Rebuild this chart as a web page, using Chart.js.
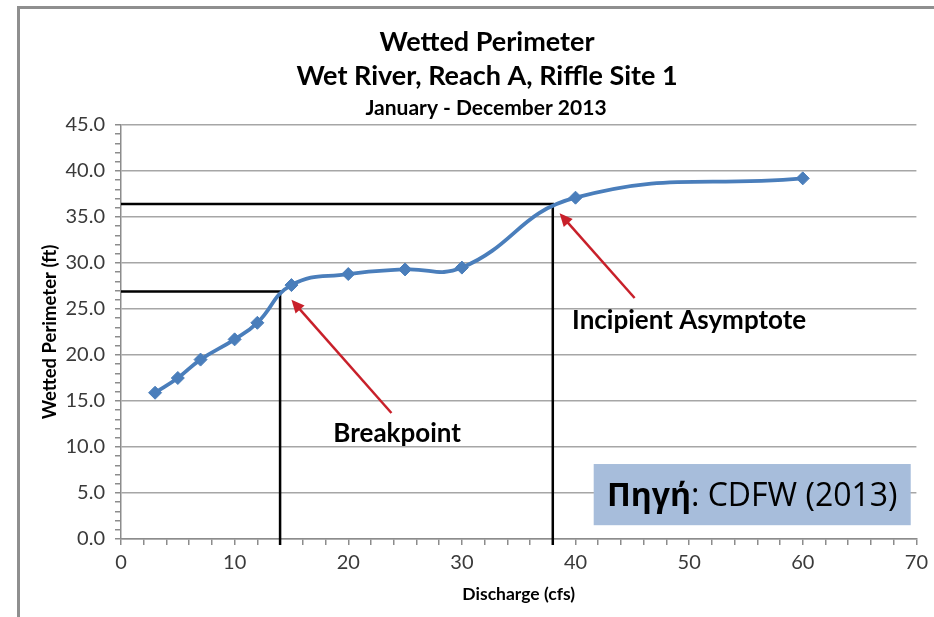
<!DOCTYPE html>
<html>
<head>
<meta charset="utf-8">
<title>Wetted Perimeter</title>
<script src="https://cdn.jsdelivr.net/npm/chart.js@4.4.1/dist/chart.umd.min.js"></script>
<style>
  html, body { margin: 0; padding: 0; background: #fff; }
  #wrap { width: 934px; height: 617px; }
</style>
</head>
<body>
<div id="wrap"><canvas id="wp" width="934" height="617"></canvas></div>
<script>
// values
const discharge = [3, 5, 7, 10, 12, 15, 20, 25, 30, 40, 60];
const perimeter = [15.9, 17.5, 19.5, 21.7, 23.5, 27.6, 28.8, 29.3, 29.5, 37.1, 39.2];

const titleLines = ['Wetted Perimeter', 'Wet River, Reach A, Riffle Site 1'];
const subtitleText = 'January - December 2013';
const xTitle = 'Discharge (cfs)';
const yTitle = 'Wetted Perimeter (ft)';

// breakpoint and incipient asymptote (discharge, perimeter)
const breakpoint = [14, 26.9];
const asymptote = [38, 36.4];
const calloutLabels = ['Breakpoint', 'Incipient Asymptote'];
const sourceBold = 'Πηγή';
const sourceRest = ': CDFW (2013)';

const ARROW_RED = '#c8202a';

function drawArrow(ctx, x1, y1, x2, y2) {
	const ang = Math.atan2(y2 - y1, x2 - x1);
	const len = 13, half = 6;
	ctx.beginPath();
	ctx.moveTo(x1, y1);
	ctx.lineTo(x2 - Math.cos(ang) * len * 0.8, y2 - Math.sin(ang) * len * 0.8);
	ctx.stroke();
	ctx.beginPath();
	ctx.moveTo(x2, y2);
	ctx.lineTo(x2 - Math.cos(ang) * len - Math.sin(ang) * half, y2 - Math.sin(ang) * len + Math.cos(ang) * half);
	ctx.lineTo(x2 - Math.cos(ang) * len + Math.sin(ang) * half, y2 - Math.sin(ang) * len - Math.cos(ang) * half);
	ctx.closePath();
	ctx.fill();
}

const overlay = {
	id: 'overlay',
	beforeDraw(chart) {
		const ctx = chart.ctx;
		ctx.save();
		ctx.fillStyle = '#fff';
		ctx.fillRect(0, 0, chart.width, chart.height);
		// outer frame (only left and top edges show)
		ctx.strokeStyle = '#8f8f8f';
		ctx.lineWidth = 3;
		ctx.beginPath();
		ctx.moveTo(18.5, chart.height);
		ctx.lineTo(18.5, 7.5);
		ctx.lineTo(chart.width, 7.5);
		ctx.stroke();
		// titles
		ctx.fillStyle = '#000';
		ctx.textAlign = 'center';
		ctx.textBaseline = 'middle';
		ctx.font = 'bold 27px Lato';
		ctx.fillText(titleLines[0], 487, 42);
		ctx.fillText(titleLines[1], 487, 76);
		ctx.font = 'bold 21px Lato';
		ctx.fillText(subtitleText, 486, 108);
		ctx.restore();
	},
	beforeDatasetsDraw(chart) {
		const { ctx, scales: { x, y } } = chart;
		ctx.save();
		ctx.strokeStyle = '#000';
		ctx.lineWidth = 2.5;
		[breakpoint, asymptote].forEach((p) => {
			const px = x.getPixelForValue(p[0]);
			const py = y.getPixelForValue(p[1]);
			ctx.beginPath();
			ctx.moveTo(x.left, py);
			ctx.lineTo(px, py);
			ctx.lineTo(px, y.bottom + 6);
			ctx.stroke();
		});
		ctx.restore();
	},
	afterDatasetsDraw(chart) {
		const { ctx, scales: { x, y } } = chart;
		const X = (v) => x.getPixelForValue(v);
		const Y = (v) => y.getPixelForValue(v);
		ctx.save();
		// arrows
		ctx.strokeStyle = ARROW_RED;
		ctx.fillStyle = ARROW_RED;
		ctx.lineWidth = 2.5;
		drawArrow(ctx, X(23.8), Y(13.7), X(15.0), Y(26.0));
		drawArrow(ctx, X(45.2), Y(26.2), X(38.6), Y(35.4));
		// callout labels
		ctx.fillStyle = '#000';
		ctx.textAlign = 'center';
		ctx.textBaseline = 'middle';
		ctx.font = 'bold 26px Lato';
		ctx.fillText(calloutLabels[0], X(24.3), Y(11.5));
		ctx.fillText(calloutLabels[1], X(50.0), Y(23.7));
		// source box
		const bx = X(41.6), by = Y(8.15), bw = X(69.5) - bx, bh = Y(1.5) - by;
		ctx.fillStyle = '#a7bddb';
		ctx.fillRect(bx, by, bw, bh);
		ctx.font = 'bold 32px "Open Sans"';
		const w1 = ctx.measureText(sourceBold).width;
		ctx.font = '32px "Open Sans"';
		const w2 = ctx.measureText(sourceRest).width;
		const tx = bx + bw / 2 - (w1 + w2) / 2;
		const ty = by + bh / 2 + 2;
		ctx.textAlign = 'left';
		ctx.fillStyle = '#000';
		ctx.font = 'bold 32px "Open Sans"';
		ctx.fillText(sourceBold, tx, ty);
		ctx.font = '32px "Open Sans"';
		ctx.fillText(sourceRest, tx + w1, ty);
		ctx.restore();
	},
};

new Chart(document.getElementById('wp'), {
	type: 'line',
	data: {
		datasets: [{
			data: discharge.map((d, i) => ({ x: d, y: perimeter[i] })),
			borderColor: '#4a7ebb',
			backgroundColor: '#4a7ebb',
			borderWidth: 3.8,
			tension: 0.45,
			pointStyle: 'rectRot',
			pointRadius: 6.5,
			pointBorderWidth: 1,
			pointBorderColor: '#4a7ebb',
		}],
	},
	options: {
		responsive: false,
		animation: false,
		layout: { padding: { top: 125, right: 14, left: 0, bottom: 0 } },
		plugins: {
			legend: { display: false },
			tooltip: { enabled: false },
		},
		scales: {
			x: {
				type: 'linear',
				min: 0,
				max: 70,
				afterFit(s) { s.height = 78; },
				border: { color: '#8c8c8c', width: 1.5 },
				grid: {
					drawOnChartArea: false,
					tickColor: '#8c8c8c',
					tickLength: 6,
					lineWidth: 1.5,
				},
				ticks: {
					stepSize: 2,
					autoSkip: false,
					maxRotation: 0,
					callback: (v) => (v % 10 === 0 ? String(v) : ''),
					color: '#3a3a3a',
					font: { family: 'Lato', size: 20 },
					padding: 6,
				},
				title: {
					display: true,
					text: xTitle,
					color: '#000',
					font: { family: 'Lato', weight: 'bold', size: 17.5 },
					padding: { top: 4, bottom: 12.5 },
				},
			},
			y: {
				min: 0,
				max: 45,
				afterFit(s) { s.width = 121; },
				border: { color: '#8c8c8c', width: 1.5 },
				grid: {
					color: (c) => (c.tick && c.tick.value % 5 === 0 ? '#a6a6a6' : 'rgba(0,0,0,0)'),
					tickColor: '#8c8c8c',
					tickLength: 6,
					lineWidth: 1.5,
				},
				ticks: {
					stepSize: 1,
					autoSkip: false,
					callback: (v) => (v % 5 === 0 ? v.toFixed(1) : ''),
					color: '#3a3a3a',
					font: { family: 'Lato', size: 20 },
					padding: 10,
				},
				title: {
					display: true,
					text: yTitle,
					color: '#000',
					font: { family: 'Lato', weight: 'bold', size: 18.5 },
					padding: { top: 39, bottom: 4 },
				},
			},
		},
	},
	plugins: [overlay],
});
</script>
</body>
</html>
